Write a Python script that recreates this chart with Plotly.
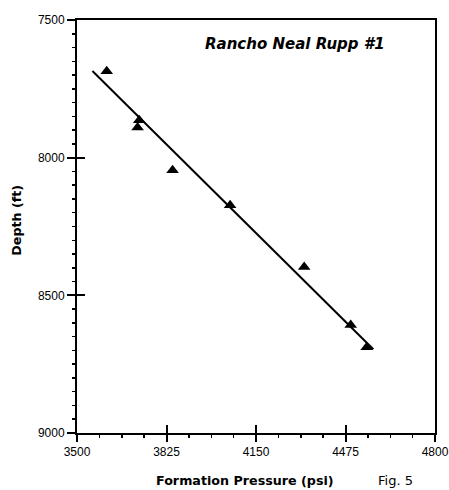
import plotly.graph_objects as go

# Data
pressure = [3608, 3720, 3726, 3847, 4056, 4325, 4494, 4552]
depth = [7686, 7890, 7864, 8046, 8173, 8397, 8608, 8689]
fit_pressure = [3556, 4576]
fit_depth = [7685, 8696]
x_ticks = [3500, 3825, 4150, 4475, 4800]
y_ticks = [7500, 8000, 8500, 9000]
x_range = [3500, 4800]
y_range = [9000, 7500]

fig = go.Figure()
fig.add_trace(go.Scatter(x=fit_pressure, y=fit_depth, mode="lines",
                         line=dict(color="black", width=2), showlegend=False, hoverinfo="skip"))
fig.add_trace(go.Scatter(x=pressure, y=depth, mode="markers",
                         marker=dict(symbol="triangle-up", size=11, color="black",
                                     line=dict(width=0)), showlegend=False))
# empty trace to host the overlay axes that draw the inner half of the major ticks
fig.add_trace(go.Scatter(x=[], y=[], xaxis="x2", yaxis="y2", showlegend=False, hoverinfo="skip"))

tickfont = dict(family="Liberation Sans", size=12, color="black")

fig.update_layout(
    width=449, height=490,
    margin=dict(l=77, r=14, t=20, b=57, autoexpand=False),
    paper_bgcolor="white", plot_bgcolor="white",
    xaxis=dict(range=x_range, tickvals=x_ticks, ticktext=[str(v) for v in x_ticks],
               ticks="outside", ticklen=7, tickwidth=2, tickcolor="black",
               showline=True, linewidth=2, linecolor="black", mirror=True,
               showgrid=False, zeroline=False, tickfont=tickfont, ticklabeloverflow="allow",
               minor=dict(tick0=3500, dtick=81.25, ticks="outside", ticklen=3,
                          tickwidth=1.5, tickcolor="black", showgrid=False)),
    yaxis=dict(range=y_range, tickvals=y_ticks, ticktext=[str(v) for v in y_ticks],
               ticks="outside", ticklen=8, tickwidth=2, tickcolor="black",
               showline=True, linewidth=2, linecolor="black", mirror=True,
               showgrid=False, zeroline=False, tickfont=tickfont, ticklabeloverflow="allow",
               minor=dict(tick0=7500, dtick=50, ticks="outside", ticklen=3,
                          tickwidth=1.5, tickcolor="black", showgrid=False)),
    xaxis2=dict(range=x_range, tickvals=x_ticks, overlaying="x", anchor="y2", side="bottom",
                ticks="inside", ticklen=8, tickwidth=2, tickcolor="black",
                showticklabels=False, showgrid=False, zeroline=False, showline=False),
    yaxis2=dict(range=y_range, tickvals=y_ticks, overlaying="y", anchor="x2", side="left",
                ticks="inside", ticklen=8, tickwidth=2, tickcolor="black",
                showticklabels=False, showgrid=False, zeroline=False, showline=False),
    annotations=[
        dict(text="<b><i>Rancho Neal Rupp #1</i></b>", xref="paper", yref="paper",
             x=0.609, y=0.942, xanchor="center", yanchor="middle", showarrow=False,
             font=dict(family="DejaVu Sans", size=15, color="black")),
        dict(text="<b>Formation Pressure (psi)</b>", xref="paper", yref="paper",
             x=0.469, y=-0.116, xanchor="center", yanchor="middle", showarrow=False,
             font=dict(family="DejaVu Sans", size=12.7, color="black")),
        dict(text="<b>Depth (ft)</b>", xref="paper", yref="paper", textangle=-90,
             x=-0.168, y=0.516, xanchor="center", yanchor="middle", showarrow=False,
             font=dict(family="DejaVu Sans", size=12.7, color="black")),
        dict(text="Fig. 5", xref="paper", yref="paper",
             x=0.891, y=-0.116, xanchor="center", yanchor="middle", showarrow=False,
             font=dict(family="DejaVu Sans", size=13, color="black")),
    ],
)

# remove the browser's default 8px body margin so the 449x490 figure fills the window
fig.write_html("out.html",
               config={"displayModeBar": False, "staticPlot": True},
               post_script="document.body.style.margin='0';document.body.style.overflow='hidden';")
